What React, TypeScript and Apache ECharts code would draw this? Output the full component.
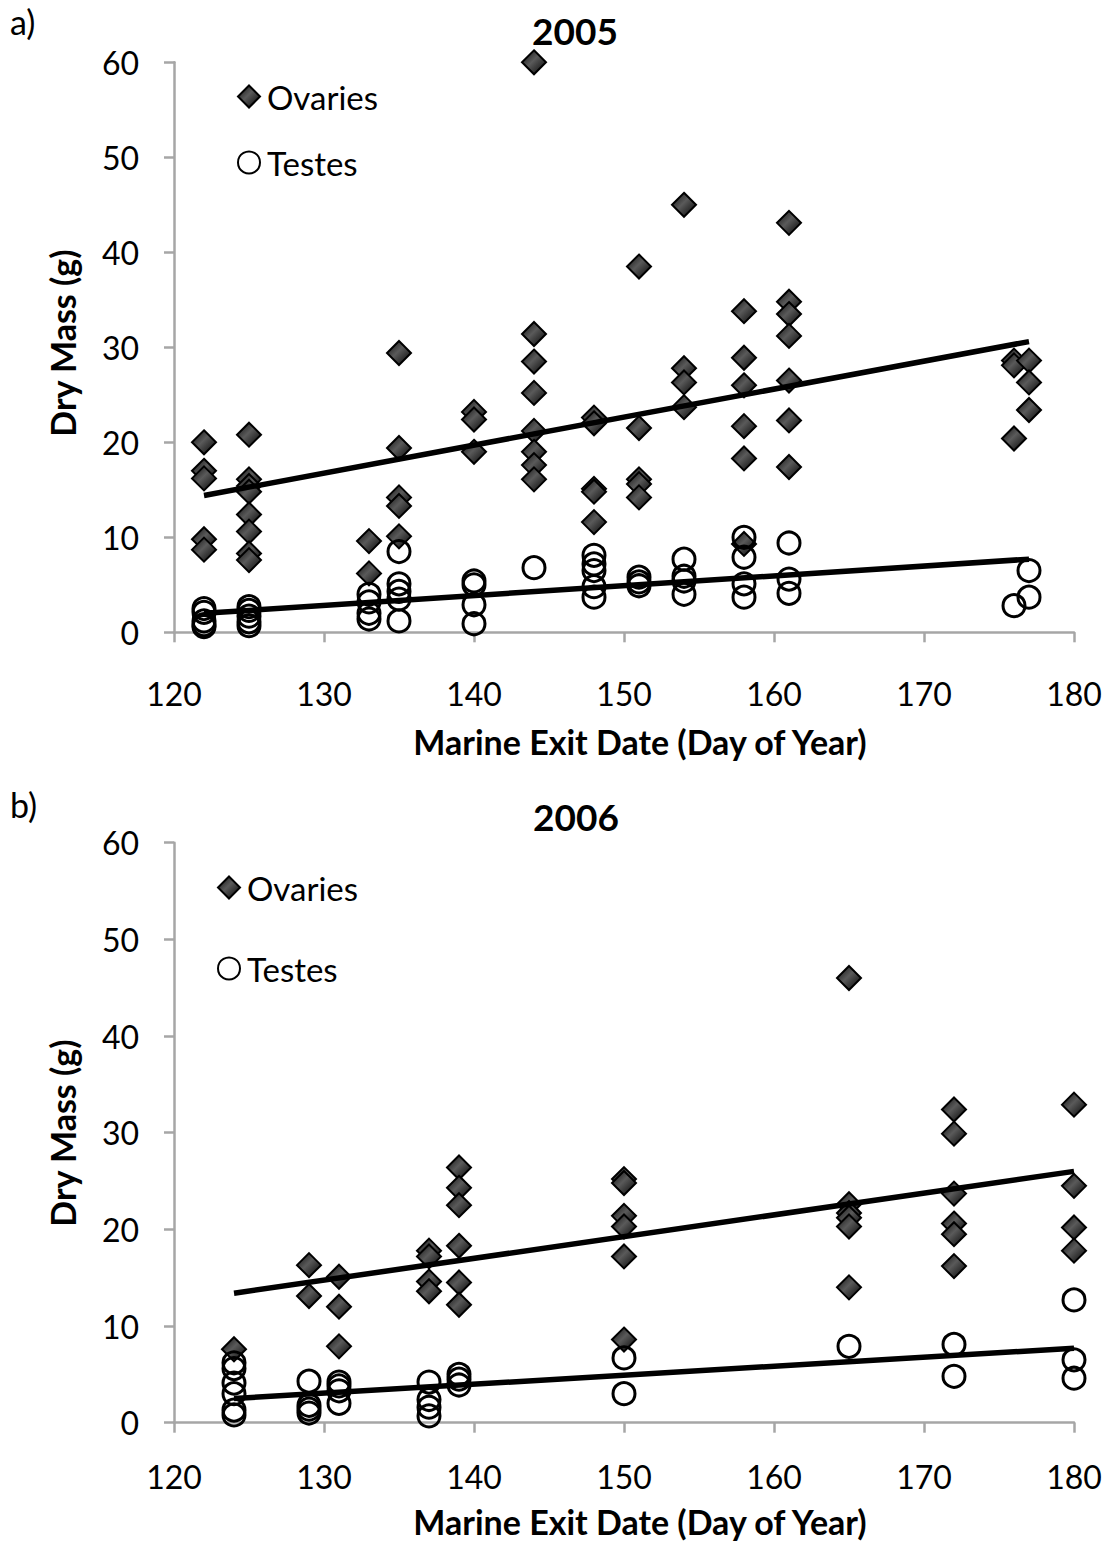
import React, { useEffect, useRef } from "react";
import * as echarts from "echarts";

// ---- Data ----
const ovaries2005: [number, number][] = [
  [122, 20.0], [122, 17.0], [122, 16.2], [122, 9.8], [122, 8.7],
  [125, 20.8], [125, 16.1], [125, 15.4], [125, 14.8], [125, 12.4], [125, 10.6], [125, 8.3], [125, 7.6],
  [133, 9.6], [133, 6.2],
  [135, 29.4], [135, 19.4], [135, 14.2], [135, 13.3], [135, 10.1],
  [140, 23.2], [140, 22.4], [140, 19.0],
  [144, 60.0], [144, 31.4], [144, 28.5], [144, 25.2], [144, 21.2], [144, 19.0], [144, 17.6], [144, 16.1],
  [148, 22.6], [148, 22.0], [148, 15.1], [148, 14.8], [148, 11.6],
  [151, 38.5], [151, 21.5], [151, 16.1], [151, 15.6], [151, 14.2],
  [154, 45.0], [154, 27.8], [154, 26.3], [154, 23.7],
  [158, 33.8], [158, 28.9], [158, 26.0], [158, 21.7], [158, 18.3], [158, 9.3],
  [161, 43.1], [161, 34.8], [161, 33.5], [161, 31.2], [161, 26.5], [161, 22.3], [161, 17.4],
  [176, 28.6], [176, 28.1], [176, 20.4],
  [177, 28.6], [177, 26.3], [177, 23.4],
];

const testes2005: [number, number][] = [
  [122, 2.5], [122, 2.1], [122, 1.2], [122, 0.8], [122, 0.6],
  [125, 2.7], [125, 2.3], [125, 1.7], [125, 1.1], [125, 0.7],
  [133, 4.0], [133, 3.2], [133, 2.0], [133, 1.4],
  [135, 8.5], [135, 5.1], [135, 4.3], [135, 3.5], [135, 1.2],
  [140, 5.4], [140, 5.0], [140, 2.9], [140, 0.9],
  [144, 6.8],
  [148, 8.1], [148, 7.2], [148, 6.5], [148, 4.8], [148, 3.7],
  [151, 5.8], [151, 5.3], [151, 4.9],
  [154, 7.7], [154, 5.9], [154, 5.4], [154, 4.0],
  [158, 10.0], [158, 7.9], [158, 5.1], [158, 3.7],
  [161, 9.4], [161, 5.6], [161, 4.1],
  [176, 2.8],
  [177, 6.5], [177, 3.7],
];

const ovaries2006: [number, number][] = [
  [124, 7.6],
  [129, 16.3], [129, 13.1],
  [131, 15.1], [131, 12.0], [131, 7.9],
  [137, 17.8], [137, 17.2], [137, 14.6], [137, 13.6],
  [139, 26.4], [139, 24.3], [139, 22.5], [139, 18.3], [139, 14.5], [139, 12.2],
  [150, 25.2], [150, 24.8], [150, 21.4], [150, 20.3], [150, 17.2], [150, 8.6],
  [165, 46.0], [165, 22.6], [165, 21.7], [165, 21.2], [165, 20.3], [165, 14.0],
  [172, 32.4], [172, 29.9], [172, 23.7], [172, 20.6], [172, 19.5], [172, 16.2],
  [180, 32.9], [180, 24.5], [180, 20.2], [180, 17.8],
];

const testes2006: [number, number][] = [
  [124, 6.2], [124, 5.6], [124, 4.1], [124, 3.0], [124, 1.3], [124, 0.8],
  [129, 4.3], [129, 1.8], [129, 1.4], [129, 1.0],
  [131, 4.2], [131, 3.8], [131, 3.3], [131, 2.0],
  [137, 4.2], [137, 2.4], [137, 1.6], [137, 0.7],
  [139, 5.0], [139, 4.5], [139, 3.9],
  [150, 6.7], [150, 3.0],
  [165, 7.9],
  [172, 8.1], [172, 4.8],
  [180, 12.7], [180, 6.5], [180, 4.6],
];

// Linear trend lines (end points)
const ovariesTrend2005: [number, number][] = [[122, 14.4], [177, 30.6]];
const testesTrend2005: [number, number][] = [[122, 2.0], [177, 7.7]];
const ovariesTrend2006: [number, number][] = [[124, 13.4], [180, 26.0]];
const testesTrend2006: [number, number][] = [[124, 2.5], [180, 7.7]];

const years = ["2005", "2006"];
const panelLabels = ["a)", "b)"];
const legendNames = ["Ovaries", "Testes"];
const xAxisTitle = "Marine Exit Date (Day of Year)";
const yAxisTitle = "Dry Mass (g)";

const FONT = "Lato";

export default function App() {
  const ref = useRef<HTMLDivElement>(null);

  useEffect(() => {
    if (!ref.current) return;
    const chart = echarts.init(ref.current, undefined, { renderer: "svg" });

    const axisGray = "#a6a6a6";
    const diamondStyle = {
      color: new echarts.graphic.LinearGradient(0, 0, 1, 1, [
        { offset: 0, color: "#0a0a0a" },
        { offset: 0.45, color: "#5a5a5a" },
        { offset: 1, color: "#000000" },
      ]),
      borderColor: "#000",
      borderWidth: 2,
      opacity: 1,
    };
    const circleStyle = {
      color: "rgba(255,255,255,0)",
      borderColor: "#000",
      borderWidth: 3,
      opacity: 1,
    };

    const xAxisBase = (gridIndex: number, margin: number) => ({
      type: "value",
      gridIndex,
      min: 120,
      max: 180,
      interval: 10,
      axisLine: { show: true, onZero: false, lineStyle: { color: axisGray, width: 2.5 } },
      axisTick: { show: true, length: 10, lineStyle: { color: axisGray, width: 2.5 } },
      splitLine: { show: false },
      axisLabel: { fontSize: 32, fontFamily: FONT, color: "#000", margin },
    });
    const yAxisBase = (gridIndex: number) => ({
      type: "value",
      gridIndex,
      min: 0,
      max: 60,
      interval: 10,
      axisLine: { show: true, onZero: false, lineStyle: { color: axisGray, width: 2.5 } },
      axisTick: { show: true, length: 10, lineStyle: { color: axisGray, width: 2.5 } },
      splitLine: { show: false },
      axisLabel: { fontSize: 32, fontFamily: FONT, color: "#000", margin: 35 },
    });

    const scatter = (name: string, data: [number, number][], idx: number, isOvary: boolean) => ({
      type: "scatter",
      name,
      xAxisIndex: idx,
      yAxisIndex: idx,
      data,
      symbol: isOvary ? "diamond" : "circle",
      symbolSize: isOvary ? 24 : 22,
      itemStyle: isOvary ? diamondStyle : circleStyle,
      z: 2,
    });
    const trend = (data: [number, number][], idx: number) => ({
      type: "line",
      name: "trend",
      xAxisIndex: idx,
      yAxisIndex: idx,
      data,
      showSymbol: false,
      symbol: "none",
      lineStyle: { color: "#000", width: 5.5 },
      z: 5,
      silent: true,
    });

    const legendText = { fontSize: 33, fontFamily: FONT, color: "#000", lineHeight: 32, padding: [0, 0, 0, 2] };

    const textEl = (text: string, x: number, y: number, size: number, bold: boolean, align = "center", rotation = 0) => ({
      type: "text",
      x,
      y,
      rotation,
      style: {
        text,
        fontSize: size,
        fontFamily: FONT,
        fontWeight: bold ? "bold" : "normal",
        fill: "#000",
        textAlign: align,
        textVerticalAlign: "middle",
      },
    });

    chart.setOption({
      animation: false,
      backgroundColor: "#fff",
      grid: [
        { left: 174, top: 62.3, width: 900, height: 570 },
        { left: 174, top: 842.7, width: 900, height: 580 },
      ],
      xAxis: [xAxisBase(0, 45), xAxisBase(1, 38)],
      yAxis: [yAxisBase(0), yAxisBase(1)],
      legend: [
        {
          data: legendNames,
          orient: "vertical",
          left: 232,
          top: 75,
          itemWidth: 22,
          itemHeight: 22,
          itemGap: 33,
          selectedMode: false,
          textStyle: legendText,
        },
        {
          data: legendNames,
          orient: "vertical",
          left: 212,
          top: 866,
          itemWidth: 22,
          itemHeight: 22,
          itemGap: 48,
          selectedMode: false,
          textStyle: legendText,
        },
      ],
      series: [
        scatter(legendNames[0], ovaries2005, 0, true),
        scatter(legendNames[1], testes2005, 0, false),
        scatter(legendNames[0], ovaries2006, 1, true),
        scatter(legendNames[1], testes2006, 1, false),
        trend(ovariesTrend2005, 0),
        trend(testesTrend2005, 0),
        trend(ovariesTrend2006, 1),
        trend(testesTrend2006, 1),
      ],
      graphic: [
        textEl(panelLabels[0], 10, 21, 34, false, "left"),
        textEl(panelLabels[1], 10, 804, 34, false, "left"),
        textEl(years[0], 575, 30, 37, true),
        textEl(years[1], 576, 816, 37, true),
        textEl(xAxisTitle, 640, 741, 34, true),
        textEl(xAxisTitle, 640, 1521, 34, true),
        textEl(yAxisTitle, 62, 343, 34, true, "center", Math.PI / 2),
        textEl(yAxisTitle, 62, 1133, 34, true, "center", Math.PI / 2),
      ],
    });

    return () => chart.dispose();
  }, []);

  return (
    <div
      ref={ref}
      style={{ position: "absolute", left: 0, top: 0, width: 1112, height: 1542, background: "#fff" }}
    />
  );
}
